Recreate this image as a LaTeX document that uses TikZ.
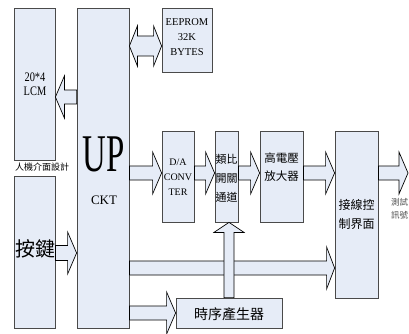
\documentclass[tikz,border=0pt]{standalone}
\usepackage{fontspec}
\setmainfont{Liberation Serif}
\newfontfamily\cjk{Noto Sans CJK TC}
\usetikzlibrary{calc}
\definecolor{boxfill}{HTML}{E6ECF7}
\definecolor{boxline}{HTML}{4A4A4A}
% #1 from anchor, #2 to anchor, #3 y, #4 shaft half, #5 head half, #6 head length (signed)
\newcommand\harr[6]{\draw[blk] let \p1=(#1), \p2=(#2), \p3=(0,#3), \p4=($(#2)-(#6,0)$) in
  (\x1,\y3+#4) -- (\x4,\y3+#4) -- (\x4,\y3+#5) -- (\x2,\y3) -- (\x4,\y3-#5) -- (\x4,\y3-#4) -- (\x1,\y3-#4) -- cycle;}
\newcommand\dharr[6]{\draw[blk] let \p1=(#1), \p2=(#2), \p3=(0,#3) in
  (\x1,\y3) -- (\x1+#6,\y3-#5) -- (\x1+#6,\y3-#4) -- (\x2-#6,\y3-#4) -- (\x2-#6,\y3-#5) -- (\x2,\y3) -- (\x2-#6,\y3+#5) -- (\x2-#6,\y3+#4) -- (\x1+#6,\y3+#4) -- (\x1+#6,\y3+#5) -- cycle;}
% #1 from (bottom), #2 to (top), #3 shaft half, #4 head half, #5 head length
\newcommand\varr[5]{\draw[blk] let \p1=(#1), \p2=(#2) in
  (\x1+#3,\y1) -- (\x1+#3,\y2-#5) -- (\x1+#4,\y2-#5) -- (\x1,\y2) -- (\x1-#4,\y2-#5) -- (\x1-#3,\y2-#5) -- (\x1-#3,\y1) -- cycle;}
\begin{document}
\begin{tikzpicture}[x=1pt,y=-1pt,
  box/.style={draw=boxline, fill=boxfill, line width=0.8pt, inner sep=0pt},
  blk/.style={draw=black, fill=boxfill, line width=0.7pt, line join=miter},
  lat/.style={inner sep=0pt, align=center},
  zh/.style={inner sep=0pt, align=center, font=\cjk\fontsize{#1}{#1}\selectfont}]
\useasboundingbox (0,0) rectangle (409,334);
% boxes
\node[box, minimum width=41pt, minimum height=152pt] (lcm) at (34.5,84) {};
\node[box, minimum width=41pt, minimum height=152pt] (key) at (34.5,252) {};
\node[box, minimum width=52pt, minimum height=320pt] (up) at (103,168) {};
\node[box, minimum width=50pt, minimum height=64pt] (eep) at (187,40) {};
\node[box, minimum width=32pt, minimum height=91pt] (da) at (178,176.5) {};
\node[box, minimum width=23pt, minimum height=91pt] (sw) at (226.5,176.5) {};
\node[box, minimum width=43pt, minimum height=91pt] (hv) at (281.5,176.5) {};
\node[box, minimum width=43pt, minimum height=167pt] (ifc) at (356.5,214.5) {};
\node[box, minimum width=106pt, minimum height=30pt] (tim) at (229,313) {};
% texts
\node[lat, font=\fontsize{13}{14}\selectfont, xscale=0.8, transform shape] (lcmt) at (35,84) {20*4\\LCM};
\node[zh=9] (hmi) at (42,167) {人機介面設計};
\node[zh=20] (keyt) at (35,249) {按鍵};
\node[lat, font=\fontsize{53}{53}\selectfont, xscale=0.62, transform shape] (upt) at (104,154) {UP};
\node[lat, font=\fontsize{13}{13}\selectfont] (ckt) at (104,200) {CKT};
\node[lat, font=\fontsize{10.5}{15}\selectfont] (eept) at (187,37) {EEPROM\\32K\\BYTES};
\node[lat, font=\fontsize{10}{15}\selectfont] (dat) at (178,177) {D/A\\CONV\\TER};
\node[zh=11, font=\cjk\fontsize{11}{19}\selectfont] (swt) at (226.5,178) {類比\\開關\\通道};
\node[zh=11.5, font=\cjk\fontsize{11.5}{18}\selectfont] (hvt) at (281.5,167) {高電壓\\放大器};
\node[zh=12, font=\cjk\fontsize{12}{19}\selectfont] (ifct) at (356.5,214.5) {接線控\\制界面};
\node[zh=14] (timt) at (229,314) {時序產生器};
\node[zh=8.5, font=\cjk\fontsize{8.5}{13}\selectfont, text=black!70, anchor=west, align=left] (outt) at (391,208.5) {測試\\訊號};
\coordinate (outend) at (408,173);
% arrows
\harr{up.west}{lcm.east}{97}{7pt}{21pt}{-9pt}
\harr{key.east}{up.west}{253}{7.5pt}{21pt}{9pt}
\dharr{up.east}{eep.west}{46}{10pt}{20pt}{8pt}
\harr{up.east}{da.west}{173}{7pt}{21pt}{9pt}
\harr{da.east}{sw.west}{173}{7pt}{21pt}{9pt}
\harr{sw.east}{hv.west}{173}{7pt}{21pt}{9pt}
\harr{hv.east}{ifc.west}{173}{7pt}{21pt}{9pt}
\harr{ifc.east}{outend}{173}{7pt}{21pt}{9pt}
\harr{up.east}{ifc.west}{268}{7pt}{21pt}{8pt}
\harr{up.east}{tim.west}{313}{7pt}{21pt}{9pt}
\varr{tim.north}{sw.south}{5pt}{15pt}{10pt}
\end{tikzpicture}
\end{document}
